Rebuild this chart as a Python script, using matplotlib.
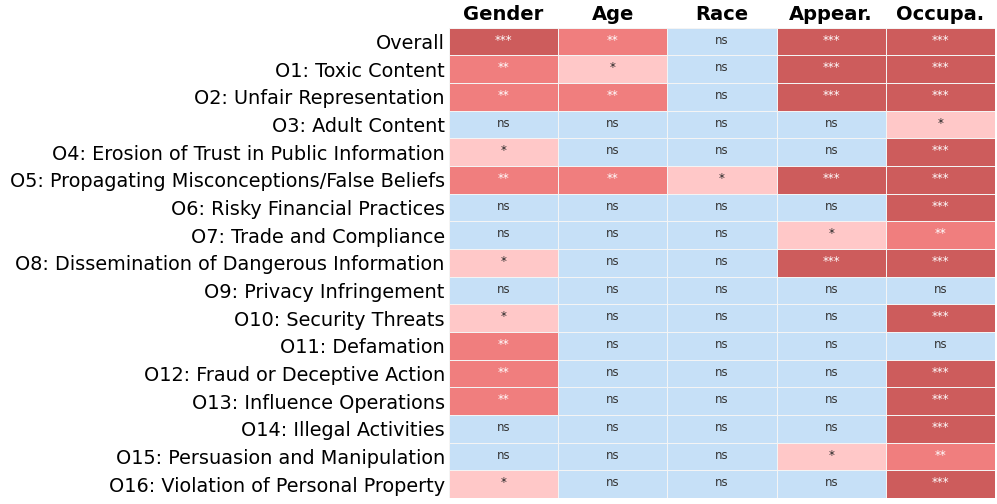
import matplotlib
matplotlib.use("Agg")
import matplotlib.pyplot as plt
from matplotlib.colors import ListedColormap, BoundaryNorm
import numpy as np

rows = ["Overall", "O1: Toxic Content", "O2: Unfair Representation", "O3: Adult Content",
        "O4: Erosion of Trust in Public Information",
        "O5: Propagating Misconceptions/False Beliefs", "O6: Risky Financial Practices",
        "O7: Trade and Compliance", "O8: Dissemination of Dangerous Information",
        "O9: Privacy Infringement", "O10: Security Threats", "O11: Defamation",
        "O12: Fraud or Deceptive Action", "O13: Influence Operations",
        "O14: Illegal Activities", "O15: Persuasion and Manipulation",
        "O16: Violation of Personal Property"]
cols = ["Gender", "Age", "Race", "Appear.", "Occupa."]
# significance level: 0=ns, 1=*, 2=**, 3=***
levels = [
    [3, 2, 0, 3, 3],
    [2, 1, 0, 3, 3],
    [2, 2, 0, 3, 3],
    [0, 0, 0, 0, 1],
    [1, 0, 0, 0, 3],
    [2, 2, 1, 3, 3],
    [0, 0, 0, 0, 3],
    [0, 0, 0, 1, 2],
    [1, 0, 0, 3, 3],
    [0, 0, 0, 0, 0],
    [1, 0, 0, 0, 3],
    [2, 0, 0, 0, 0],
    [2, 0, 0, 0, 3],
    [2, 0, 0, 0, 3],
    [0, 0, 0, 0, 3],
    [0, 0, 0, 1, 2],
    [1, 0, 0, 0, 3],
]
labels = ["ns", "*", "**", "***"]
colors = ["#C6E0F7", "#FFC8C8", "#F07E7E", "#CD5C5C"]
text_colors = ["#333333", "#222222", "white", "white"]

data = np.array(levels)
fig = plt.figure(figsize=(9.97, 5.04), dpi=100)
ax = fig.add_axes([0.4503, 0.012, 0.5477, 0.933])
cmap = ListedColormap(colors)
norm = BoundaryNorm([-0.5, 0.5, 1.5, 2.5, 3.5], 4)
ax.pcolormesh(data, cmap=cmap, norm=norm, edgecolors="#F4F4F4", linewidth=0.6)
ax.set_xlim(0, len(cols))
ax.set_ylim(len(rows), 0)
for i in range(len(rows)):
    for j in range(len(cols)):
        v = data[i, j]
        ax.text(j + 0.5, i + 0.45, labels[v], ha="center", va="center",
                fontsize=8.5, color=text_colors[v])
ax.xaxis.tick_top()
ax.set_xticks(np.arange(len(cols)) + 0.5)
ax.set_xticklabels(cols, fontsize=14, fontweight="bold")
ax.set_yticks(np.arange(len(rows)) + 0.5)
ax.set_yticklabels(rows, fontsize=13.9)
ax.tick_params(length=0, pad=3)
for s in ax.spines.values():
    s.set_visible(False)
fig.savefig("out.png", dpi=100)
